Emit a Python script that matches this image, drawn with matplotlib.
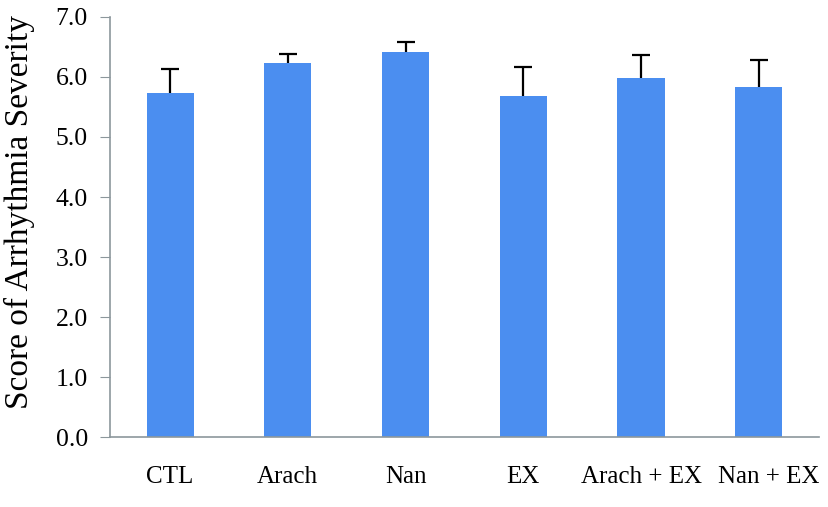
import numpy as np
import matplotlib
matplotlib.use("Agg")
import matplotlib.pyplot as plt
from matplotlib.transforms import ScaledTranslation

# -----------------------------
# Data
# -----------------------------
groups = ["CTL", "Arach", "Nan", "EX", "Arach + EX", "Nan + EX"]
scores = [5.73, 6.23, 6.41, 5.69, 5.99, 5.84]
errors = [0.40, 0.16, 0.17, 0.47, 0.38, 0.44]
yticks = [0.0, 1.0, 2.0, 3.0, 4.0, 5.0, 6.0, 7.0]

plt.rcParams['font.family'] = ['Liberation Serif', 'DejaVu Serif']

fig = plt.figure(figsize=(8.29, 5.07), dpi=100)
ax = fig.add_axes([0.1327, 0.138, 0.855, 0.8285])

x = np.arange(len(groups))
ax.bar(x, scores, width=0.4, color='#4b8ef0', zorder=2)
# upper error bars only
_, caps, _ = ax.errorbar(x, scores, yerr=[np.zeros(len(errors)), errors], fmt='none',
                         ecolor='black', elinewidth=1.6, capsize=6.5, capthick=1.6, zorder=3)
caps[0].set_visible(False)

ax.set_xlim(-0.51, 5.51)
ax.set_ylim(0, 7.0)
ax.set_yticks(yticks)
ax.set_yticklabels([f"{t:.1f}" for t in yticks], fontsize=18.5)
ax.set_xticks(x)
ax.set_xticklabels(groups, fontsize=18)
ax.tick_params(axis='x', length=0, pad=21)
ax.tick_params(axis='y', direction='out', length=7, color='#8c979c', pad=9)
ax.set_ylabel('Score of Arrhythmia Severity', fontsize=24)
ax.yaxis.set_label_coords(-0.106, 0.535)

# last label sits a bit right of its bar in the original
last = ax.get_xticklabels()[-1]
last.set_transform(last.get_transform() + ScaledTranslation(0.1, 0, fig.dpi_scale_trans))

for side in ['top', 'right']:
    ax.spines[side].set_visible(False)
for side in ['left', 'bottom']:
    ax.spines[side].set_color('#8c979c')
    ax.spines[side].set_linewidth(1.2)

fig.savefig('out.png', dpi=100)
